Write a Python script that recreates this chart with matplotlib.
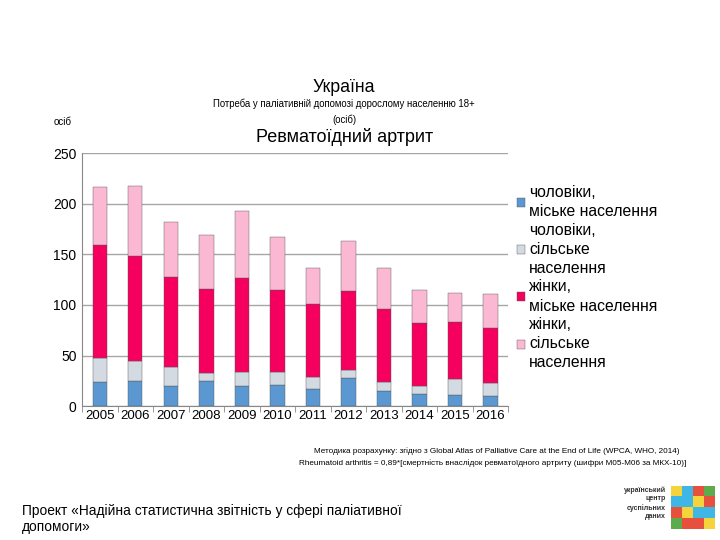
import numpy as np
import matplotlib
matplotlib.use('Agg')
import matplotlib.pyplot as plt
from matplotlib.colors import ListedColormap

plt.rcParams['font.family'] = ['Liberation Sans', 'DejaVu Sans']

# Values (persons)
years = ['2005', '2006', '2007', '2008', '2009', '2010',
         '2011', '2012', '2013', '2014', '2015', '2016']
men_urban = [23.8, 24.8, 19.5, 24.8, 19.5, 20.5, 17.2, 27.4, 14.9, 11.9, 11.2, 9.9]
men_rural = [24.1, 19.8, 19.1, 8.2, 14.2, 13.2, 11.5, 7.9, 8.9, 7.6, 15.9, 12.9]
women_urban = [111.3, 104.0, 89.2, 82.6, 93.1, 81.6, 72.0, 78.6, 72.6, 62.7, 56.5, 54.5]
women_rural = [57.1, 69.4, 54.2, 53.4, 66.4, 51.5, 36.0, 49.2, 40.3, 32.4, 28.4, 34.0]

series_labels = ['чоловіки,\nміське населення',
                 'чоловіки,\nсільське\nнаселення',
                 'жінки,\nміське населення',
                 'жінки,\nсільське\nнаселення']
colors = ['#5b97d1', '#d4dae2', '#f5005f', '#fbb8d2']

fig = plt.figure(figsize=(7.2, 5.4), dpi=100)
ax = fig.add_axes([0.114, 0.248, 0.592, 0.468])

x = np.arange(len(years))
bottom = np.zeros(len(years))
for vals, lab, col in zip([men_urban, men_rural, women_urban, women_rural],
                          series_labels, colors):
    ax.bar(x, vals, width=0.4, bottom=bottom, color=col, label=lab,
           edgecolor='#555555', linewidth=0.3, zorder=3)
    bottom += np.array(vals)

ax.set_xlim(-0.5, len(years) - 0.5)
ax.set_ylim(0, 250)
ax.set_yticks([0, 50, 100, 150, 200, 250])
ax.yaxis.grid(True, color='#a6a6a6', linewidth=1, zorder=0)
ax.set_xticks(x)
ax.set_xticklabels(years, fontsize=9.5)
ax.tick_params(axis='x', length=0, pad=3)
ax.tick_params(axis='y', length=0, labelsize=10, pad=4)
# small boundary ticks between categories
ax.set_xticks(np.arange(len(years) + 1) - 0.5, minor=True)
ax.tick_params(axis='x', which='minor', length=4, color='#888888')
for s in ['top', 'right']:
    ax.spines[s].set_visible(False)
ax.spines['left'].set_color('#888888')
ax.spines['bottom'].set_color('#888888')

leg = ax.legend(loc='upper left', bbox_to_anchor=(1.005, 0.9), frameon=False,
                fontsize=11.3, handlelength=0.5, handleheight=0.5,
                handletextpad=0.3, labelspacing=0.22, borderaxespad=0)
for t in leg.get_texts():
    t.set_linespacing(1.35)

fig.text(0.478, 0.838, 'Україна', ha='center', va='center', fontsize=12.8)
fig.text(0.478, 0.807, 'Потреба у паліативній допомозі дорослому населенню 18+',
         ha='center', va='center', fontsize=6.9)
fig.text(0.478, 0.778, '(осіб)', ha='center', va='center', fontsize=6.9)
fig.text(0.478, 0.746, 'Ревматоїдний артрит', ha='center', va='center', fontsize=13)
fig.text(0.075, 0.774, 'осіб', ha='left', va='center', fontsize=7)

fig.text(0.69, 0.164,
         'Методика розрахунку: згідно з Global Atlas of Palliative Care at the End of Life (WPCA, WHO, 2014)',
         ha='center', va='center', fontsize=5.9)
fig.text(0.684, 0.142,
         'Rheumatoid arthritis = 0,89*[смертність внаслідок ревматоїдного артриту (шифри М05-М06 за МКХ-10)]',
         ha='center', va='center', fontsize=5.9)

fig.text(0.03, 0.039, 'Проект «Надійна статистична звітність у сфері паліативної\nдопомоги»',
         ha='left', va='center', fontsize=9.9, linespacing=1.2)

# logo
fig.text(0.925, 0.068, 'український\nцентр\nсуспільних\nданих', ha='right', va='center',
         fontsize=5, fontweight='bold', linespacing=1.3, color='#333333')
logo = fig.add_axes([0.932, 0.02, 0.06, 0.08])
grid = np.array([[0, 1, 2, 3],
                 [1, 1, 0, 2],
                 [2, 0, 1, 1],
                 [3, 2, 2, 0]])
logo.imshow(grid, cmap=ListedColormap(['#f5d33b', '#3fb7e6', '#e8503e', '#5dab4a']),
            interpolation='nearest')
logo.axis('off')

fig.savefig('out.png', dpi=100)
